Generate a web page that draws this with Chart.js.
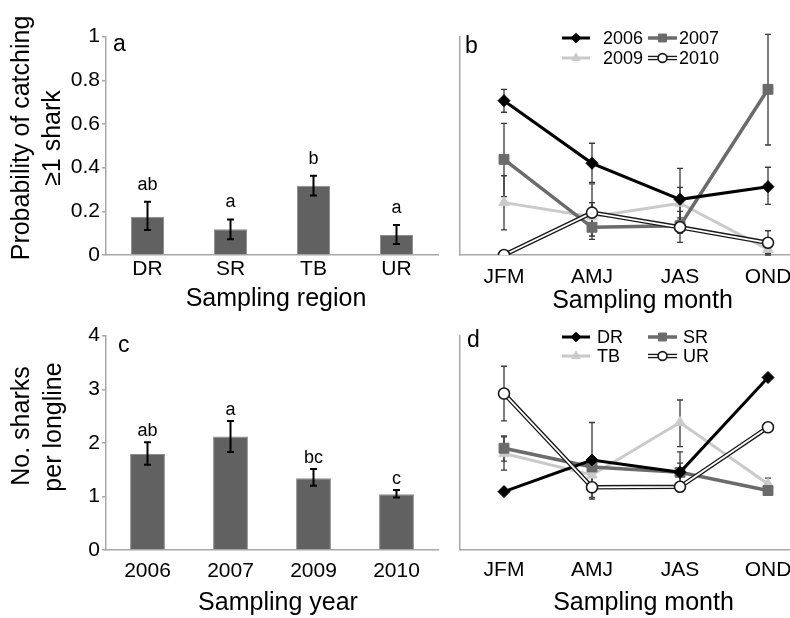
<!DOCTYPE html>
<html><head><meta charset="utf-8">
<script src="https://cdn.jsdelivr.net/npm/chart.js@4.4.0/dist/chart.umd.min.js"></script>
<style>
html,body{margin:0;padding:0;background:#fff;overflow:hidden;width:790px;height:618px;}
#wrap{position:relative;width:790px;height:618px;overflow:hidden;background:#fff;}
canvas{position:absolute;}
</style></head><body><div id="wrap">
<canvas id="ca" width="445" height="315" style="left:0;top:0"></canvas>
<canvas id="cb" width="380" height="315" style="left:445px;top:0"></canvas>
<canvas id="cc" width="445" height="308" style="left:0;top:310px"></canvas>
<canvas id="cd" width="380" height="308" style="left:445px;top:310px"></canvas>
</div>
<script>
// ---------- DATA ----------
const regions = ['DR', 'SR', 'TB', 'UR'];
const probCatch = [0.175, 0.118, 0.317, 0.092];
const probCatchLow = [0.115, 0.072, 0.272, 0.050];
const probCatchHigh = [0.244, 0.163, 0.363, 0.137];
const probLetters = ['ab', 'a', 'b', 'a'];

const months = ['JFM', 'AMJ', 'JAS', 'OND'];
const prob2006 = [0.707, 0.420, 0.255, 0.313];
const prob2006Low = [0.654, 0.333, 0.153, 0.232];
const prob2006High = [0.759, 0.512, 0.397, 0.402];
const prob2007 = [0.438, 0.127, 0.134, 0.759];
const prob2007Low = [0.267, 0.072, 0.100, 0.504];
const prob2007High = [0.603, 0.240, 0.170, 1.011];
const prob2009 = [0.240, 0.175, 0.237, 0.026];
const prob2009Low = [0.115, 0.110, 0.160, 0.000];
const prob2009High = [0.363, 0.240, 0.310, 0.050];
const prob2010 = [0.000, 0.194, 0.127, 0.056];
const prob2010Low = [null, 0.087, 0.058, 0.008];
const prob2010High = [null, 0.326, 0.200, 0.111];

const years = ['2006', '2007', '2009', '2010'];
const sharksPerLine = [1.79, 2.12, 1.34, 1.04];
const sharksLow = [1.59, 1.83, 1.20, 0.98];
const sharksHigh = [2.01, 2.41, 1.51, 1.12];
const sharkLetters = ['ab', 'a', 'bc', 'c'];

const sharksDR = [1.09, 1.68, 1.45, 3.22];
const sharksDRLow = [null, 0.95, 1.20, null];
const sharksDRHigh = [null, 2.38, 1.83, null];
const sharksSR = [1.90, 1.55, 1.45, 1.11];
const sharksSRLow = [1.66, 1.40, 1.27, 1.05];
const sharksSRHigh = [2.13, 1.70, 1.62, 1.18];
const sharksTB = [1.80, 1.40, 2.38, 1.23];
const sharksTBLow = [1.49, 1.20, 1.93, 1.12];
const sharksTBHigh = [2.11, 1.60, 2.80, 1.34];
const sharksUR = [2.92, 1.17, 1.18, 2.29];
const sharksURLow = [2.41, 0.98, 1.10, 2.22];
const sharksURHigh = [3.43, 1.36, 1.27, 2.36];

// ---------- STYLE ----------
const FONT = "'Liberation Sans', Arial, Helvetica, sans-serif";
Chart.defaults.font.family = FONT;
Chart.defaults.color = '#000';
const AXIS = '#a8a8a8';

const S = {
  black: {color: '#000000', width: 3, point: 'rectRot', r: 6, fill: '#000000', stroke: '#000000', pbw: 1},
  gray: {color: '#6b6b6b', width: 3.5, point: 'rect', r: 7, fill: '#6b6b6b', stroke: '#6b6b6b', pbw: 1},
  light: {color: '#cacaca', width: 3, point: 'triangle', r: 6, fill: '#cacaca', stroke: '#cacaca', pbw: 1},
  dbl: {color: '#1a1a1a', width: 4.5, inner: '#ffffff', innerWidth: 1.8, point: 'circle', r: 5.5, fill: '#ffffff', stroke: '#1a1a1a', pbw: 1.6}
};

function marker(ctx, s, x, y, scale) {
  const r = s.r * (scale || 1);
  ctx.save();
  ctx.fillStyle = s.fill; ctx.strokeStyle = s.stroke; ctx.lineWidth = s.pbw;
  ctx.beginPath();
  if (s.point === 'rectRot') { ctx.moveTo(x - r, y); ctx.lineTo(x, y - r); ctx.lineTo(x + r, y); ctx.lineTo(x, y + r); ctx.closePath(); }
  else if (s.point === 'rect') { const h = r * Math.SQRT1_2; ctx.rect(x - h, y - h, 2 * h, 2 * h); }
  else if (s.point === 'triangle') { ctx.moveTo(x, y - r); ctx.lineTo(x + r * 0.866, y + r * 0.5); ctx.lineTo(x - r * 0.866, y + r * 0.5); ctx.closePath(); }
  else { ctx.arc(x, y, r, 0, Math.PI * 2); }
  ctx.fill(); ctx.stroke();
  ctx.restore();
}

function lineDatasets(series) {
  const out = [];
  series.forEach(sr => {
    const s = sr.style;
    if (s.inner) {
      out.push({data: sr.data, borderColor: s.inner, borderWidth: s.innerWidth, pointStyle: s.point, pointRadius: s.r,
        pointBackgroundColor: s.fill, pointBorderColor: s.stroke, pointBorderWidth: s.pbw, tension: 0, fill: false});
      out.push({data: sr.data, borderColor: s.color, borderWidth: s.width, pointRadius: 0, tension: 0, fill: false});
    } else {
      out.push({data: sr.data, borderColor: s.color, borderWidth: s.width, pointStyle: s.point, pointRadius: s.r,
        pointBackgroundColor: s.fill, pointBorderColor: s.stroke, pointBorderWidth: s.pbw, tension: 0, fill: false});
    }
  });
  return out;
}

function drawErrors(chart, opts) {
  const ctx = chart.ctx, xs = chart.scales.x, ys = chart.scales.y;
  (opts.errorBars || []).forEach(eb => {
    ctx.save();
    ctx.strokeStyle = eb.color; ctx.lineWidth = eb.width;
    eb.low.forEach((lo, i) => {
      const hi = eb.high[i];
      if (lo == null || hi == null) return;
      const x = xs.getPixelForValue(i);
      const y1 = ys.getPixelForValue(lo), y2 = ys.getPixelForValue(hi);
      ctx.beginPath();
      ctx.moveTo(x, y1); ctx.lineTo(x, y2);
      ctx.moveTo(x - eb.cap, y1); ctx.lineTo(x + eb.cap, y1);
      ctx.moveTo(x - eb.cap, y2); ctx.lineTo(x + eb.cap, y2);
      ctx.stroke();
      if (eb.letters) {
        ctx.fillStyle = '#000';
        ctx.font = eb.letterSize + 'px ' + FONT;
        ctx.textAlign = 'center'; ctx.textBaseline = 'alphabetic';
        ctx.fillText(eb.letters[i], x, y2 - eb.gap);
      }
    });
    ctx.restore();
  });
}

const decor = {
  id: 'decor',
  beforeDatasetsDraw(chart, args, opts) { if (opts.errorLayer === 'before') drawErrors(chart, opts); },
  afterDatasetsDraw(chart, args, opts) { if (opts.errorLayer !== 'before') drawErrors(chart, opts); },
  afterDraw(chart, args, opts) {
    const ctx = chart.ctx;
    (opts.texts || []).forEach(t => {
      ctx.save();
      ctx.fillStyle = '#000';
      ctx.font = t.size + 'px ' + FONT;
      ctx.textAlign = t.align || 'center';
      ctx.textBaseline = t.baseline || 'middle';
      ctx.translate(t.x, t.y);
      if (t.rotate) ctx.rotate(-Math.PI / 2);
      ctx.fillText(t.text, 0, 0);
      ctx.restore();
    });
    (opts.legend || []).forEach(it => {
      const s = it.style;
      ctx.save();
      ctx.lineCap = 'butt';
      ctx.beginPath(); ctx.moveTo(it.x1, it.y); ctx.lineTo(it.x2, it.y);
      ctx.strokeStyle = s.color; ctx.lineWidth = s.width; ctx.stroke();
      if (s.inner) {
        ctx.beginPath(); ctx.moveTo(it.x1, it.y); ctx.lineTo(it.x2, it.y);
        ctx.strokeStyle = s.inner; ctx.lineWidth = s.innerWidth; ctx.stroke();
      }
      ctx.restore();
      marker(ctx, s, (it.x1 + it.x2) / 2, it.y, 0.8);
      ctx.save();
      ctx.fillStyle = '#000';
      ctx.font = '18px ' + FONT;
      ctx.textAlign = 'left'; ctx.textBaseline = 'middle';
      ctx.fillText(it.text, it.tx, it.y + 1);
      ctx.restore();
    });
  }
};

function tickFmt(v) { return String(Number(v.toFixed(2))); }

function baseOptions(pad, xHeight, yWidth, yMax, yStep, showY, xPad) {
  return {
    responsive: false, animation: false, devicePixelRatio: 1,
    layout: {padding: pad},
    plugins: {legend: {display: false}, tooltip: {enabled: false}},
    scales: {
      x: {offset: true, grid: {display: false, offset: true}, border: {color: AXIS, width: 1.5},
          ticks: {font: {size: 21, lineHeight: 1}, padding: xPad, color: '#000'},
          afterFit(s) { s.height = xHeight; s.paddingLeft = 0; s.paddingRight = 0; }},
      y: {min: 0, max: yMax,
          ticks: {display: showY, stepSize: yStep, font: {size: 21, lineHeight: 1}, padding: 2, color: '#000', callback: tickFmt},
          grid: {display: showY, drawOnChartArea: false, tickLength: 4, color: AXIS, lineWidth: 1.5},
          border: {color: AXIS, width: 1.5},
          afterFit(s) { s.width = yWidth; s.paddingTop = 0; s.paddingBottom = 0; }}
    }
  };
}

// ---------- PANEL A ----------
const optA = baseOptions({left: 0, right: 7, top: 36.7, bottom: 0}, 60, 106, 1, 0.2, true, -4);
optA.plugins.decor = {
  errorBars: [{low: probCatchLow, high: probCatchHigh, color: '#000', width: 2, cap: 3.5, letters: probLetters, letterSize: 18, gap: 12}],
  texts: [
    {text: 'Probability of catching', x: 22, y: 138, size: 25, rotate: true},
    {text: '\u22651 shark', x: 53, y: 138, size: 25, rotate: true},
    {text: 'Sampling region', x: 276, y: 299, size: 25},
    {text: 'a', x: 113, y: 51, size: 23, align: 'left', baseline: 'alphabetic'}
  ]
};
new Chart(document.getElementById('ca'), {
  type: 'bar',
  data: {labels: regions, datasets: [{data: probCatch, backgroundColor: '#616161', borderColor: '#8c8c8c', borderWidth: 1, barPercentage: 0.4, categoryPercentage: 1}]},
  options: optA, plugins: [decor]
});

// ---------- PANEL B ----------
const optB = baseOptions({left: 15, right: 13, top: 36.7, bottom: 0}, 60, 0, 1, 0.2, false, 3.5);
optB.plugins.decor = {
  errorLayer: 'before',
  errorBars: [
    {low: prob2006Low, high: prob2006High, color: '#3a3a3a', width: 1.3, cap: 3},
    {low: prob2007Low, high: prob2007High, color: '#3a3a3a', width: 1.3, cap: 3},
    {low: prob2009Low, high: prob2009High, color: '#3a3a3a', width: 1.3, cap: 3},
    {low: prob2010Low, high: prob2010High, color: '#3a3a3a', width: 1.3, cap: 3}
  ],
  texts: [
    {text: 'Sampling month', x: 197.5, y: 301, size: 25},
    {text: 'b', x: 20, y: 53, size: 23, align: 'left', baseline: 'alphabetic'}
  ],
  legend: [
    {text: '2006', style: S.black, x1: 117, x2: 145, tx: 158, y: 38},
    {text: '2007', style: S.gray, x1: 203, x2: 232, tx: 234, y: 38},
    {text: '2009', style: S.light, x1: 117, x2: 145, tx: 158, y: 58},
    {text: '2010', style: S.dbl, x1: 203, x2: 232, tx: 234, y: 58}
  ]
};
new Chart(document.getElementById('cb'), {
  type: 'line',
  data: {labels: months, datasets: lineDatasets([
    {data: prob2010, style: S.dbl}, {data: prob2006, style: S.black},
    {data: prob2007, style: S.gray}, {data: prob2009, style: S.light}])},
  options: optB, plugins: [decor]
});

// ---------- PANEL C ----------
const optC = baseOptions({left: 0, right: 7, top: 25.7, bottom: 0}, 68, 106, 4, 1, true, 3);
optC.plugins.decor = {
  errorBars: [{low: sharksLow, high: sharksHigh, color: '#000', width: 2, cap: 3.5, letters: sharkLetters, letterSize: 18, gap: 6}],
  texts: [
    {text: 'No. sharks', x: 22, y: 116, size: 25, rotate: true},
    {text: 'per longline', x: 54, y: 117, size: 25, rotate: true},
    {text: 'Sampling year', x: 278, y: 293.5, size: 25},
    {text: 'c', x: 118, y: 42, size: 23, align: 'left', baseline: 'alphabetic'}
  ]
};
new Chart(document.getElementById('cc'), {
  type: 'bar',
  data: {labels: years, datasets: [{data: sharksPerLine, backgroundColor: '#616161', borderColor: '#8c8c8c', borderWidth: 1, barPercentage: 0.42, categoryPercentage: 1}]},
  options: optC, plugins: [decor]
});

// ---------- PANEL D ----------
const optD = baseOptions({left: 15, right: 13, top: 25.7, bottom: 0}, 68, 0, 4, 1, false, 2);
optD.plugins.decor = {
  errorLayer: 'before',
  errorBars: [
    {low: sharksDRLow, high: sharksDRHigh, color: '#3a3a3a', width: 1.3, cap: 3},
    {low: sharksSRLow, high: sharksSRHigh, color: '#3a3a3a', width: 1.3, cap: 3},
    {low: sharksTBLow, high: sharksTBHigh, color: '#3a3a3a', width: 1.3, cap: 3},
    {low: sharksURLow, high: sharksURHigh, color: '#3a3a3a', width: 1.3, cap: 3}
  ],
  texts: [
    {text: 'Sampling month', x: 198.5, y: 293.5, size: 25},
    {text: 'd', x: 22, y: 37, size: 23, align: 'left', baseline: 'alphabetic'}
  ],
  legend: [
    {text: 'DR', style: S.black, x1: 117, x2: 145, tx: 152, y: 27},
    {text: 'SR', style: S.gray, x1: 203, x2: 232, tx: 238, y: 27},
    {text: 'TB', style: S.light, x1: 117, x2: 145, tx: 152, y: 46},
    {text: 'UR', style: S.dbl, x1: 203, x2: 232, tx: 238, y: 46}
  ]
};
new Chart(document.getElementById('cd'), {
  type: 'line',
  data: {labels: months, datasets: lineDatasets([
    {data: sharksUR, style: S.dbl}, {data: sharksDR, style: S.black},
    {data: sharksSR, style: S.gray}, {data: sharksTB, style: S.light}])},
  options: optD, plugins: [decor]
});
</script>
</body></html>
